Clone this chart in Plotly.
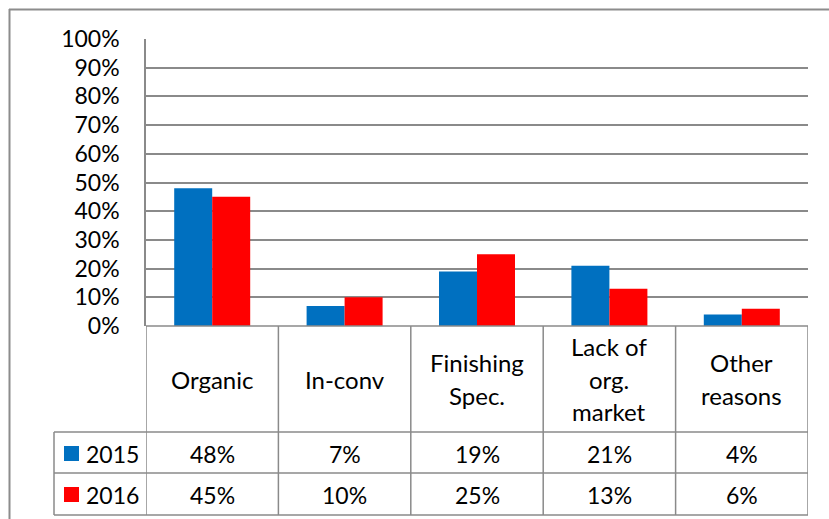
import plotly.graph_objects as go

# Reasons for exclusion, share of respondents per year
categories = ["Organic", "In-conv", "Finishing\nSpec.", "Lack of\norg.\nmarket", "Other\nreasons"]
years = ["2015", "2016"]
values_2015 = [48, 7, 19, 21, 4]
values_2016 = [45, 10, 25, 13, 6]
series_colors = ["#0070C0", "#FF0000"]
y_ticks = [0, 10, 20, 30, 40, 50, 60, 70, 80, 90, 100]

W, H = 829, 519
FONT = "Lato"
FS = 23
GRID = "#8a8a8a"


def xp(px):
    return px / W


def yp(py):
    return 1 - py / H


# plot-area and table geometry (pixels)
left, right, top, base = 146, 808, 39, 326
header_bottom, row1_bottom, row2_bottom = 432, 473, 515
table_left = 54

series = [values_2015, values_2016]
x_idx = list(range(len(categories)))

fig = go.Figure()
for name, vals, col in zip(years, series, series_colors):
    fig.add_trace(go.Bar(
        x=x_idx, y=vals, name=name, marker=dict(color=col, line=dict(width=0)),
        showlegend=False, hoverinfo="skip",
    ))

shapes = []
annotations = []

# outer chart border (left and top edges)
shapes.append(dict(type="line", xref="paper", yref="paper", x0=xp(9), x1=xp(W + 5),
                   y0=yp(9.5), y1=yp(9.5), line=dict(color="#8c8c8c", width=2)))
shapes.append(dict(type="line", xref="paper", yref="paper", x0=xp(9.5), x1=xp(9.5),
                   y0=yp(9), y1=yp(H + 5), line=dict(color="#8c8c8c", width=2)))

line_style = dict(color=GRID, width=1.5)

# table: vertical separators at category boundaries
n = len(categories)
for i in range(n + 1):
    shapes.append(dict(type="line", xref="x", yref="paper", x0=i - 0.5, x1=i - 0.5,
                       y0=yp(base), y1=yp(row2_bottom), line=line_style))
# table: horizontal rules
shapes.append(dict(type="line", xref="paper", yref="paper", x0=xp(left), x1=xp(right),
                   y0=yp(base), y1=yp(base), line=line_style))
for yy in (header_bottom, row1_bottom, row2_bottom):
    shapes.append(dict(type="line", xref="paper", yref="paper", x0=xp(table_left), x1=xp(right),
                       y0=yp(yy), y1=yp(yy), line=line_style))
shapes.append(dict(type="line", xref="paper", yref="paper", x0=xp(table_left), x1=xp(table_left),
                   y0=yp(header_bottom), y1=yp(row2_bottom), line=line_style))

# category names in the header row, each line centred vertically
header_mid = 379
line_gap = 32.5
for i, cat in enumerate(categories):
    parts = cat.split("\n")
    k = len(parts)
    for j, part in enumerate(parts):
        py = header_mid + (j - (k - 1) / 2) * line_gap
        annotations.append(dict(x=i, y=yp(py), xref="x", yref="paper", text=part,
                                showarrow=False, xanchor="center", yanchor="middle",
                                font=dict(family=FONT, size=24, color="black")))

# data rows with legend keys
row_mids = [(header_bottom + row1_bottom) / 2 + 1, (row1_bottom + row2_bottom) / 2 + 0.5]
for name, vals, col, ym in zip(years, series, series_colors, row_mids):
    shapes.append(dict(type="rect", xref="paper", yref="paper", x0=xp(64), x1=xp(79),
                       y0=yp(ym - 7.5), y1=yp(ym + 7.5), fillcolor=col, line=dict(width=0)))
    annotations.append(dict(x=xp(84), y=yp(ym), xref="paper", yref="paper", text=name,
                            showarrow=False, xanchor="left", yanchor="middle",
                            font=dict(family=FONT, size=FS, color="black")))
    for i, v in enumerate(vals):
        annotations.append(dict(x=i, y=yp(ym), xref="x", yref="paper", text=f"{v}%",
                                showarrow=False, xanchor="center", yanchor="middle",
                                font=dict(family=FONT, size=FS, color="black")))

fig.update_layout(
    template="none",
    width=W, height=H,
    margin=dict(l=0, r=0, t=0, b=0, pad=0, autoexpand=False),
    paper_bgcolor="white", plot_bgcolor="white",
    barmode="group", bargap=0.426, bargroupgap=0,
    shapes=shapes, annotations=annotations,
    xaxis=dict(domain=[xp(left), xp(right)], range=[-0.5, n - 0.5], automargin=False,
               showticklabels=False, showgrid=False, zeroline=False, showline=False,
               fixedrange=True),
    yaxis=dict(domain=[yp(base), yp(top)], range=[0, 100], tickvals=y_ticks, automargin=False,
               ticktext=[f"{t}%" for t in y_ticks], showgrid=True, gridcolor=GRID, gridwidth=1.5,
               zeroline=False, showline=True, linecolor=GRID, linewidth=1.5,
               ticks="", ticklabelstandoff=20,
               tickfont=dict(family=FONT, size=FS, color="black"), fixedrange=True),
    showlegend=False,
)

fig.write_html("out.html")
